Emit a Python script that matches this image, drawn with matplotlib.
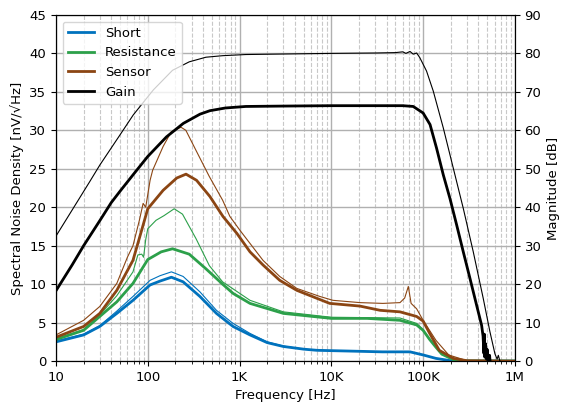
import matplotlib.pyplot as plt
import matplotlib.ticker as mticker

plt.rcParams['font.size'] = 9.5

# noise density data [nV/sqrt(Hz)], thick = low gain, thin = high gain
f_short = [10, 20, 30, 46, 69, 106, 136, 181, 243, 370, 560, 850, 1300, 2000, 3000,
           5000, 7000, 16000, 36000, 72000, 100000, 138000, 200000, 300000, 1e6]
short_a = [2.5, 3.4, 4.5, 6.2, 7.9, 9.9, 10.4, 10.9, 10.3, 8.4, 6.2, 4.5, 3.4, 2.4, 1.9,
           1.55, 1.4, 1.3, 1.2, 1.2, 0.8, 0.35, 0.05, 0.0, 0.0]
short_b = [2.6, 3.5, 4.6, 6.5, 8.4, 10.5, 11.1, 11.6, 11.0, 9.0, 6.6, 4.9, 3.6, 2.5, 1.95,
           1.55, 1.4, 1.3, 1.2, 1.2, 0.8, 0.35, 0.05, 0.0, 0.0]

f_res_a = [10, 20, 30, 46, 69, 100, 140, 186, 283, 430, 654, 850, 1300, 3000, 10000,
           24500, 56000, 85000, 100000, 118000, 138000, 160000, 213000, 300000, 1e6]
res_a = [2.8, 4.0, 5.8, 7.7, 10.1, 13.2, 14.2, 14.6, 13.9, 12.0, 10.0, 8.8, 7.5, 6.2, 5.55,
         5.55, 5.3, 4.7, 4.0, 2.8, 1.8, 0.9, 0.2, 0.02, 0.0]
f_res_b = [10, 20, 30, 46, 69, 78, 86, 90, 95, 100, 123, 150, 194, 239, 336, 469, 654,
           1300, 3000, 10000, 24500, 56000, 85000, 100000, 118000, 138000, 160000, 213000,
           300000, 1e6]
res_b = [2.9, 4.1, 6.0, 8.5, 11.6, 13.8, 13.9, 13.5, 15.8, 17.2, 18.3, 18.9, 19.8, 19.1,
         15.9, 12.4, 10.3, 7.9, 6.4, 5.7, 5.65, 5.6, 4.9, 4.1, 2.8, 1.8, 0.9, 0.2, 0.02, 0.0]

f_sen_a = [10, 20, 30, 46, 69, 82, 100, 147, 207, 261, 340, 475, 660, 935, 1300, 1800,
           2740, 4200, 9600, 20500, 34000, 56000, 85000, 100000, 118000, 150000, 213000,
           300000, 1e6]
sen_a = [3.1, 4.5, 6.2, 9.2, 13.1, 16.2, 19.8, 22.2, 23.8, 24.3, 23.5, 21.4, 18.8, 16.6,
         14.2, 12.5, 10.5, 9.2, 7.5, 7.15, 6.6, 6.4, 5.8, 5.2, 3.6, 1.4, 0.35, 0.05, 0.0]
f_sen_b = [10, 20, 30, 46, 60, 69, 81, 89, 95, 106, 113, 147, 180, 230, 260, 335, 468,
           655, 785, 1010, 1800, 2740, 4200, 7500, 10400, 20500, 36500, 56000, 63000,
           69000, 74000, 85000, 100000, 138000, 190000, 300000, 1e6]
sen_b = [3.4, 5.3, 7.1, 10.1, 13.5, 15.0, 18.3, 20.5, 20.0, 23.5, 24.8, 27.9, 29.8, 30.4,
         30.0, 27.4, 24.0, 20.9, 18.8, 17.0, 13.1, 11.0, 9.45, 8.4, 7.9, 7.6, 7.5, 7.6,
         8.2, 9.7, 7.5, 6.8, 5.3, 2.7, 0.8, 0.05, 0.0]

# gain [dB]
f_gain_a = [10, 15, 20, 30, 40, 50, 69.5, 100, 160, 244, 371, 476, 700, 1170, 3000, 10000,
            30000, 60000, 78000, 100000, 119000, 140000, 166000, 196000, 232000, 274000,
            324000, 383000, 434000, 450000, 460000, 465000, 471000, 480000, 490000,
            500000, 510000, 530000, 560000, 1e6]
gain_a = [18.3, 25.0, 30.0, 36.5, 41.2, 44.2, 48.5, 53.2, 58.3, 61.8, 64.2, 65.1, 65.8,
          66.2, 66.3, 66.4, 66.4, 66.4, 66.2, 64.5, 61.5, 55.4, 48.4, 42.3, 35.4, 28.4,
          21.5, 14.5, 9.3, 6.5, 2.0, 7.0, 1.0, 4.5, 0.5, 3.0, 0.3, 1.5, -5, -5]
f_gain_b = [10, 15.2, 23.1, 30.1, 49.8, 69.5, 115, 186, 283, 430, 654, 1170, 10000, 30000,
            50000, 60000, 65000, 72000, 78000, 85000, 92000, 109000, 129000, 166000,
            213000, 274000, 352000, 452000, 535000, 606000, 640000, 660000, 687000, 750000,
            1e6]
gain_b = [32.5, 39.5, 46.5, 51.0, 58.8, 64.0, 70.5, 75.6, 77.8, 79.0, 79.4, 79.7, 80.0,
          80.1, 80.2, 80.4, 80.0, 80.5, 79.8, 80.1, 78.9, 75.4, 70.2, 60.6, 50.2, 39.7,
          28.4, 16.3, 7.6, 1.9, 0.5, 1.5, 0.0, -5, -5]

c_short = '#0072BD'
c_res = '#2ca04a'
c_sen = '#8B4513'

fig = plt.figure(figsize=(5.61, 4.03), dpi=100)
ax = fig.add_axes([0.0998, 0.104, 0.818, 0.859])
ax2 = ax.twinx()

ax.plot(f_short, short_b, color=c_short, lw=0.8)
ax.plot(f_short, short_a, color=c_short, lw=2)
ax.plot(f_res_b, res_b, color=c_res, lw=0.8)
ax.plot(f_res_a, res_a, color=c_res, lw=2)
ax.plot(f_sen_b, sen_b, color=c_sen, lw=0.8)
ax.plot(f_sen_a, sen_a, color=c_sen, lw=2)
ax2.plot(f_gain_b, gain_b, color='black', lw=0.8)
ax2.plot(f_gain_a, gain_a, color='black', lw=2)

ax.set_xscale('log')
ax.set_xlim(10, 1e6)
ax.set_ylim(0, 45)
ax2.set_ylim(0, 90)
ax.set_yticks(range(0, 46, 5))
ax2.set_yticks(range(0, 91, 10))
ax.xaxis.set_major_locator(mticker.FixedLocator([10, 100, 1e3, 1e4, 1e5, 1e6]))
ax.xaxis.set_major_formatter(mticker.FixedFormatter(['10', '100', '1K', '10K', '100K', '1M']))
ax.xaxis.set_minor_locator(mticker.LogLocator(base=10, subs=range(2, 10)))
ax.xaxis.set_minor_formatter(mticker.NullFormatter())

ax.grid(True, which='major', color='#b0b0b0', lw=1)
ax.grid(True, which='minor', axis='x', color='#c8c8c8', ls='--', lw=0.8)

ax.set_xlabel('Frequency [Hz]')
ax.set_ylabel('Spectral Noise Density [nV/\u221aHz]')
ax2.set_ylabel('Magnitude [dB]')

h = [plt.Line2D([], [], color=c, lw=2) for c in (c_short, c_res, c_sen, 'black')]
ax2.legend(h, ['Short', 'Resistance', 'Sensor', 'Gain'], loc='upper left')

fig.savefig('out.png', dpi=100)
